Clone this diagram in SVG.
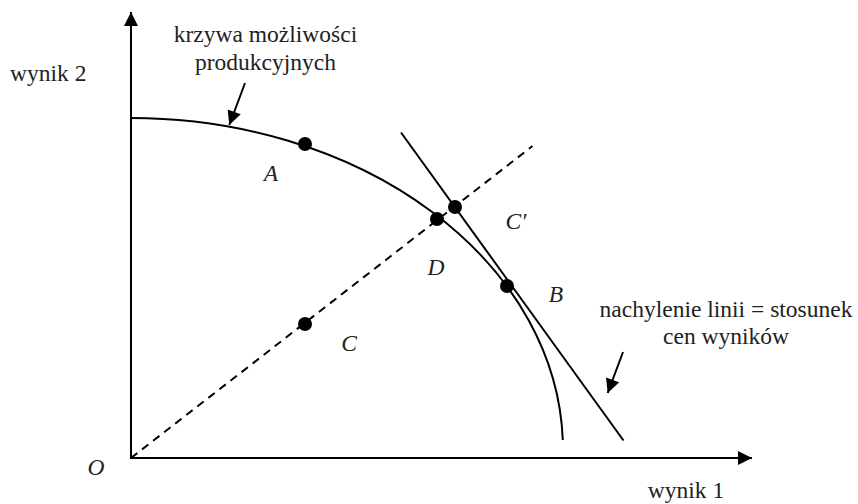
<svg xmlns="http://www.w3.org/2000/svg" width="858" height="504" viewBox="0 0 858 504">
<style>
text{font-family:"Times New Roman","Liberation Serif","DejaVu Serif",serif;font-size:23.5px;fill:#222}
.i{font-style:italic;text-anchor:middle}
.ln{fill:none;stroke:#000;stroke-width:2}
.dot{fill:#000}
</style>
<defs>
<marker id="ah" viewBox="0 0 10 10" refX="10" refY="5" markerWidth="16" markerHeight="14" markerUnits="userSpaceOnUse" orient="auto">
<path d="M0,0 L10,5 L0,10 Z" fill="#000"/>
</marker>
</defs>
<rect width="858" height="504" fill="#fff"/>
<g id="connectors">
<line class="ln" x1="131" y1="459" x2="131" y2="12" stroke-width="2.5" marker-end="url(#ah)"/>
<line class="ln" x1="130" y1="458" x2="752" y2="458" stroke-width="2.5" marker-end="url(#ah)"/>
<path id="curve" class="ln" d="M131,118 A432,332 0 0 1 562.8,440"/>
<line id="tangent" class="ln" x1="401" y1="132.5" x2="623.5" y2="440.5"/>
<line id="ray" class="ln" x1="131" y1="458" x2="532.5" y2="146" stroke-dasharray="8,6"/>
<line class="ln" x1="245" y1="83" x2="229.3" y2="125" marker-end="url(#ah)"/>
<line class="ln" x1="623" y1="352" x2="607.7" y2="393" marker-end="url(#ah)"/>
</g>
<g id="A"><circle class="dot" cx="305" cy="144" r="7"/><text class="i" x="271" y="181">A</text></g>
<g id="D"><circle class="dot" cx="437" cy="219" r="7"/><text class="i" x="436" y="275">D</text></g>
<g id="Cp"><circle class="dot" cx="455" cy="207" r="7"/><text class="i" x="516" y="229">C′</text></g>
<g id="B"><circle class="dot" cx="507" cy="286" r="7"/><text class="i" x="556" y="302">B</text></g>
<g id="C"><circle class="dot" cx="305" cy="324" r="7"/><text class="i" x="349" y="351">C</text></g>
<g id="O"><text class="i" x="96" y="475">O</text></g>
<g id="labels">
<text x="10" y="81">wynik 2</text>
<text x="686" y="498" text-anchor="middle">wynik 1</text>
<text x="265.5" y="41.5" text-anchor="middle">krzywa możliwości</text>
<text x="265.5" y="70" text-anchor="middle">produkcyjnych</text>
<text x="726" y="317" text-anchor="middle">nachylenie linii = stosunek</text>
<text x="726" y="344" text-anchor="middle">cen wyników</text>
</g>
</svg>
